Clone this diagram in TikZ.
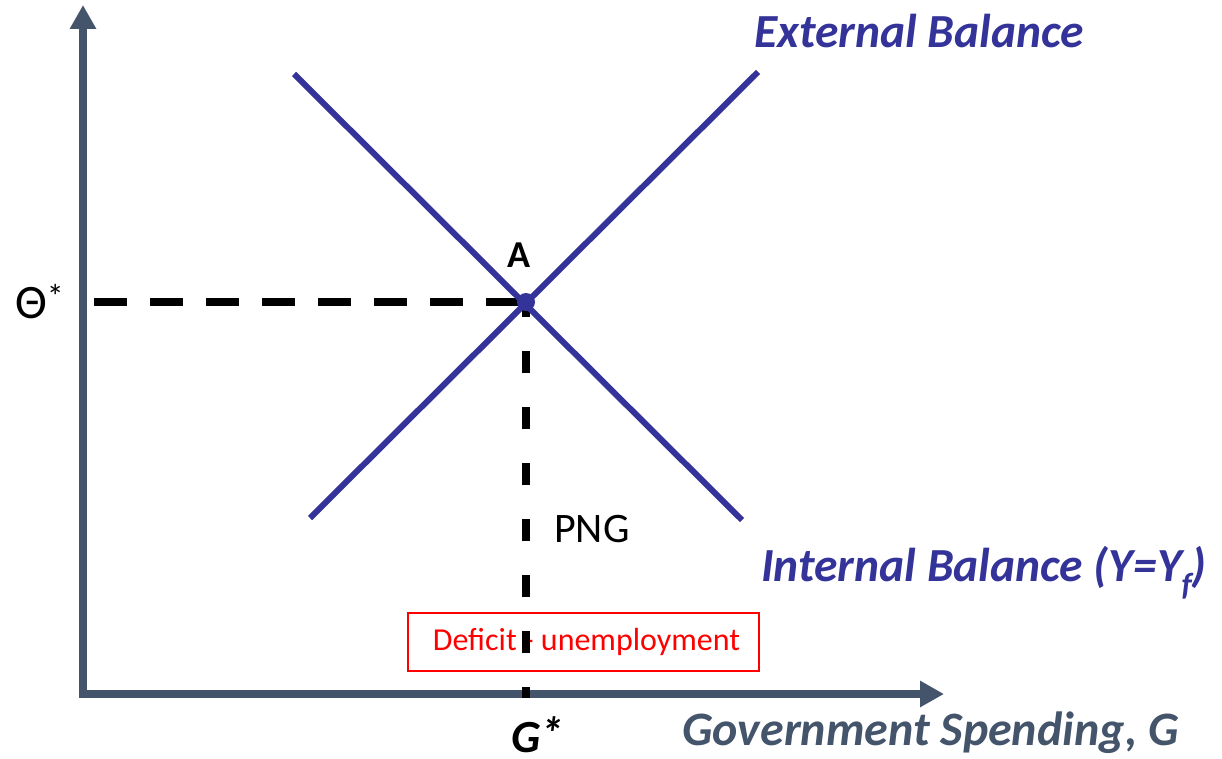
\documentclass[tikz,border=0pt]{standalone}
\usepackage{fontspec}
\setmainfont{Carlito}
\usetikzlibrary{arrows.meta}
\definecolor{axisgray}{RGB}{68,84,106}
\definecolor{curveblue}{RGB}{51,51,153}
\newcommand{\fs}[1]{\fontsize{#1}{#1}\selectfont}
\tikzset{
  axisline/.style={draw=axisgray, line width=8pt, line join=miter, {Triangle[length=24pt,width=25pt]}-{Triangle[length=24pt,width=25pt]}},
  curve/.style={draw=curveblue, line width=6pt},
  hdash/.style={draw=black, line width=8pt, dash pattern=on 33pt off 23pt},
  vdash/.style={draw=black, line width=8pt, dash pattern=on 22pt off 34pt, dash phase=7pt},
  bluelabel/.style={text=curveblue, font=\fs{47.5}\bfseries\itshape, inner sep=0pt, anchor=base west},
  redbox/.style={draw=red, line width=2pt, text=red, font=\fs{32}, minimum width=351pt, minimum height=58pt, inner sep=0pt},
}
\begin{document}
\begin{tikzpicture}[x=1pt,y=-1pt]
\useasboundingbox (0,0) rectangle (1222,759);
% coordinates
\coordinate (ytip) at (83,5);
\coordinate (origin) at (83,694);
\coordinate (xtip) at (944,694);
\coordinate (A) at (526,302);
\coordinate (hstart) at (94,302);
\coordinate (gfoot) at (526,698);
\coordinate (ibtop) at (294,74);
\coordinate (ibbot) at (742,520);
\coordinate (ebbot) at (310,518);
\coordinate (ebtop) at (758,72);
% axes
\draw[axisline] (ytip) -- (origin) -- (xtip);
% red box
\node[redbox] (box) at (583.5,642) {\hspace*{6pt}Deficit - unemployment};
% dashed guides
\draw[hdash] (hstart) -- (A);
\draw[vdash] (A) -- (gfoot);
% curves
\draw[curve] (ibtop) -- (ibbot);
\draw[curve] (ebbot) -- (ebtop);
\fill[curveblue] (A) circle (9pt);
% labels
\node[inner sep=0pt, anchor=base, font=\fs{38}\bfseries] (lA) at (519,267) {A};
\node[inner sep=0pt, anchor=base west, font=\fs{48}] (theta) at (15,318) {Θ\raisebox{0.2em}{\fs{34}*}};
\node[inner sep=0pt, anchor=base west, font=\fs{42}] (png) at (554,542) {PNG};
\node[bluelabel] (ext) at (754,48) {External Balance};
\node[bluelabel] (int) at (761,581) {Internal Balance (Y=Y\raisebox{-0.3em}{\fs{32}f})};
\node[inner sep=0pt, anchor=base west, font=\fs{48}\bfseries\itshape, text=axisgray] (gov) at (682,745) {Government Spending, G};
\node[inner sep=0pt, anchor=base west, font=\fs{46}\bfseries\itshape] (gstar) at (511,752) {G\raisebox{0.05em}{*}};
\end{tikzpicture}
\end{document}
